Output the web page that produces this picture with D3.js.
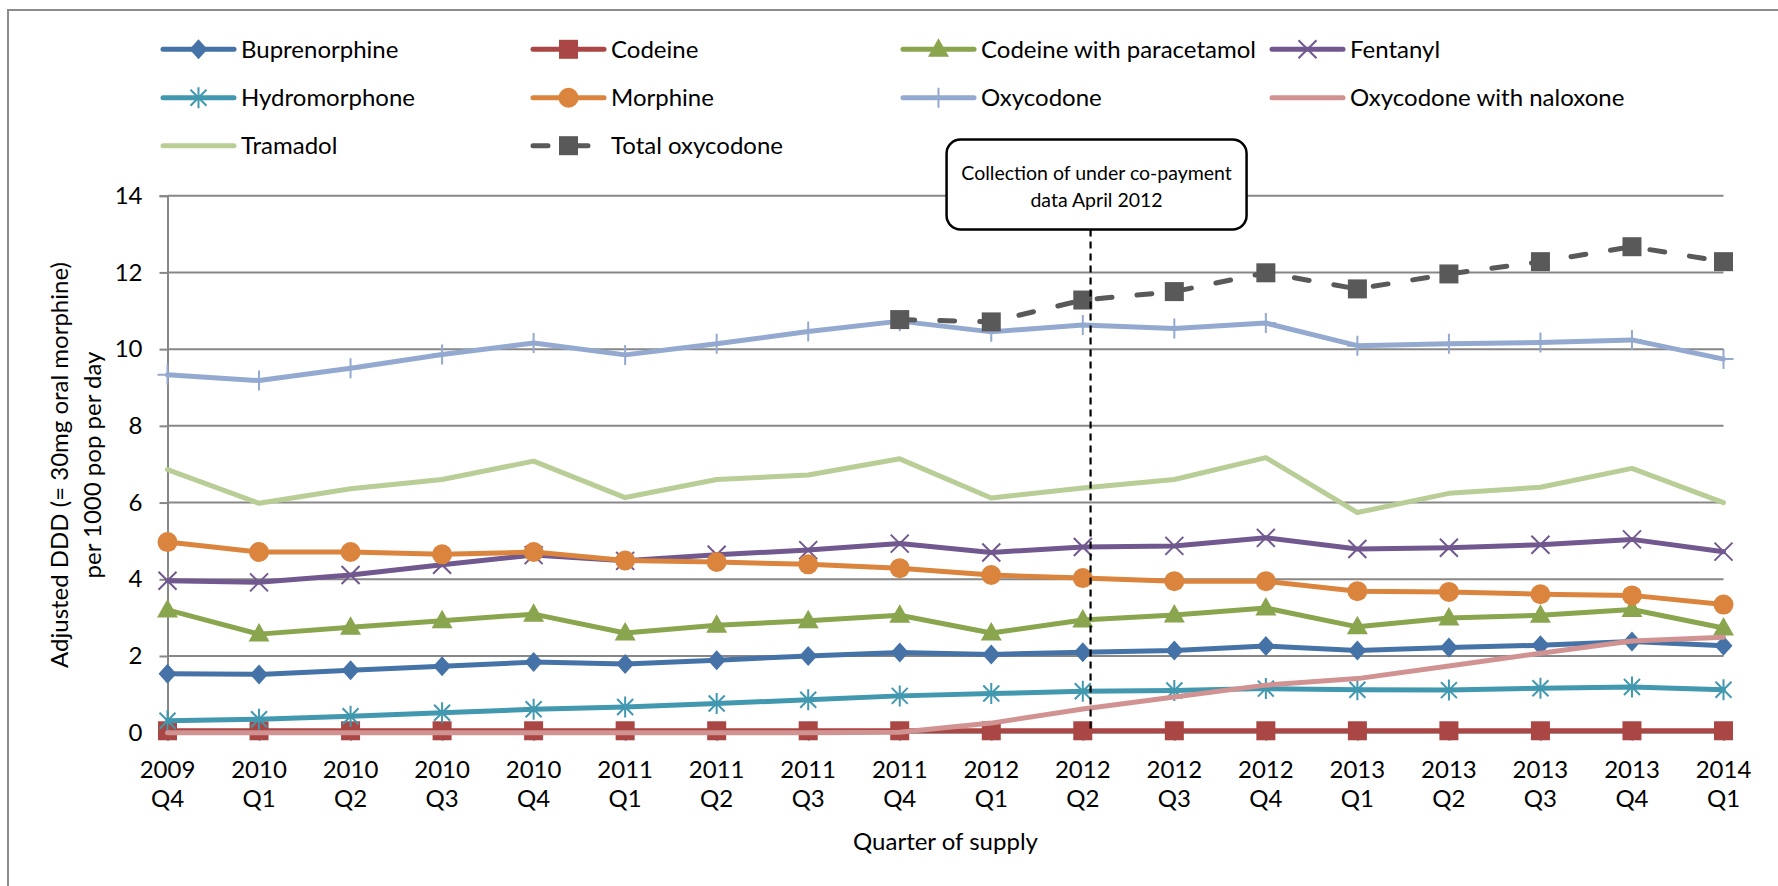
<!DOCTYPE html>
<html>
<head>
<meta charset="utf-8">
<script src="https://cdn.jsdelivr.net/npm/d3@7"></script>
<style>
  html, body { margin: 0; padding: 0; background: #ffffff; }
  svg { display: block; font-family: Lato, "Liberation Sans", sans-serif; }
</style>
</head>
<body>
<svg id="chart" width="1778" height="886"></svg>
<script>
// Quarter of supply (two-line category labels)
const years    = ["2009","2010","2010","2010","2010","2011","2011","2011","2011","2012","2012","2012","2012","2013","2013","2013","2013","2014"];
const quarters = ["Q4","Q1","Q2","Q3","Q4","Q1","Q2","Q3","Q4","Q1","Q2","Q3","Q4","Q1","Q2","Q3","Q4","Q1"];

// Adjusted DDD per 1000 population per day
const buprenorphine       = [1.54, 1.52, 1.63, 1.73, 1.84, 1.79, 1.89, 2.00, 2.09, 2.04, 2.10, 2.14, 2.26, 2.14, 2.22, 2.28, 2.38, 2.27];
const codeine             = [0.05, 0.05, 0.05, 0.05, 0.05, 0.05, 0.05, 0.05, 0.05, 0.05, 0.05, 0.05, 0.05, 0.05, 0.05, 0.05, 0.05, 0.05];
const codeineParacetamol  = [3.20, 2.57, 2.75, 2.92, 3.09, 2.60, 2.80, 2.92, 3.06, 2.60, 2.94, 3.07, 3.25, 2.76, 2.99, 3.06, 3.21, 2.73];
const fentanyl            = [3.96, 3.92, 4.11, 4.38, 4.63, 4.48, 4.64, 4.76, 4.93, 4.70, 4.84, 4.87, 5.08, 4.79, 4.82, 4.90, 5.04, 4.72];
const hydromorphone       = [0.31, 0.35, 0.43, 0.52, 0.61, 0.67, 0.76, 0.86, 0.96, 1.02, 1.08, 1.10, 1.15, 1.12, 1.11, 1.16, 1.19, 1.12];
const morphine            = [4.97, 4.71, 4.71, 4.65, 4.71, 4.49, 4.45, 4.39, 4.29, 4.11, 4.03, 3.95, 3.95, 3.69, 3.67, 3.61, 3.58, 3.34];
const oxycodone           = [9.33, 9.18, 9.50, 9.86, 10.16, 9.85, 10.14, 10.46, 10.73, 10.45, 10.63, 10.54, 10.68, 10.09, 10.14, 10.17, 10.24, 9.74];
const oxycodoneNaloxone   = [0, 0, 0, 0, 0, 0, 0, 0, 0.01, 0.25, 0.62, 0.93, 1.24, 1.41, 1.74, 2.07, 2.39, 2.49];
const tramadol            = [6.86, 5.98, 6.36, 6.60, 7.08, 6.13, 6.60, 6.72, 7.14, 6.12, 6.38, 6.60, 7.17, 5.74, 6.24, 6.40, 6.89, 6.00];
const totalOxycodone      = [null, null, null, null, null, null, null, null, 10.77, 10.71, 11.28, 11.50, 11.99, 11.57, 11.96, 12.28, 12.67, 12.28];

const yTicks = [0, 2, 4, 6, 8, 10, 12, 14];

const seriesNames = ["Buprenorphine", "Codeine", "Codeine with paracetamol", "Fentanyl",
                     "Hydromorphone", "Morphine", "Oxycodone", "Oxycodone with naloxone",
                     "Tramadol", "Total oxycodone"];
const seriesValues = [buprenorphine, codeine, codeineParacetamol, fentanyl,
                      hydromorphone, morphine, oxycodone, oxycodoneNaloxone,
                      tramadol, totalOxycodone];
const seriesColors = ["#4572A7", "#AA4643", "#89A54E", "#71588F",
                      "#4198AF", "#DB843D", "#93A9CF", "#D19392",
                      "#B9CD96", "#595959"];
const seriesMarkers = ["diamond", "square", "triangle", "cross",
                       "asterisk", "circle", "plus", "none",
                       "none", "square"];

// Policy annotation sits just after the 2012 Q2 point
const noteLines = ["Collection of under co-payment", "data April 2012"];
const notePosition = 10.085;

const svg = d3.select("#chart");
const W = 1778, H = 886;
const plot = { left: 167.5, right: 1723.5, top: 195.7, bottom: 732.7 };
const FONT = 24;

// chart area frame
svg.append("rect").attr("x", 0).attr("y", 0).attr("width", W).attr("height", H).attr("fill", "#fff");
svg.append("rect").attr("x", 8).attr("y", 10).attr("width", W + 20).attr("height", H + 20)
  .attr("fill", "none").attr("stroke", "#8c8c8c").attr("stroke-width", 2);

const x = d3.scaleLinear().domain([0, years.length - 1]).range([plot.left, plot.right]);
const y = d3.scaleLinear().domain([0, 14]).range([plot.bottom, plot.top]);

// horizontal gridlines
svg.append("g").selectAll("line").data(yTicks.filter(t => t > 0)).join("line")
  .attr("x1", plot.left).attr("x2", plot.right)
  .attr("y1", d => y(d)).attr("y2", d => y(d))
  .attr("stroke", "#878787").attr("stroke-width", 2);

// y axis
const yAxis = d3.axisLeft(y).tickValues(yTicks).tickSize(8).tickPadding(17).tickFormat(d3.format("d"));
const gy = svg.append("g").attr("transform", `translate(${plot.left},0)`).call(yAxis);
gy.select(".domain").attr("stroke", "#878787").attr("stroke-width", 2);
gy.selectAll(".tick line").attr("stroke", "#878787").attr("stroke-width", 2);
gy.selectAll(".tick text").attr("font-size", FONT).attr("font-family", "Lato, 'Liberation Sans', sans-serif")
  .attr("fill", "#000");

// x axis (categories on tick marks)
const xAxis = d3.axisBottom(x).tickValues(d3.range(years.length)).tickSize(8).tickFormat("");
const gx = svg.append("g").attr("transform", `translate(0,${plot.bottom})`).call(xAxis);
gx.select(".domain").attr("stroke", "#878787").attr("stroke-width", 2).attr("d", `M${plot.left},0H${plot.right}`);
gx.selectAll(".tick line").attr("stroke", "#878787").attr("stroke-width", 2);
const xl = svg.append("g").attr("font-size", FONT).attr("text-anchor", "middle").attr("fill", "#000");
xl.selectAll("text.yr").data(years).join("text").attr("class", "yr")
  .attr("x", (d, i) => x(i)).attr("y", 778).text(d => d);
xl.selectAll("text.qt").data(quarters).join("text").attr("class", "qt")
  .attr("x", (d, i) => x(i)).attr("y", 807).text(d => d);

// axis titles
svg.append("text").attr("x", (plot.left + plot.right) / 2).attr("y", 850)
  .attr("text-anchor", "middle").attr("font-size", FONT).text("Quarter of supply");
const yt = svg.append("g").attr("font-size", FONT).attr("text-anchor", "middle");
yt.append("text").attr("transform", "translate(68,465) rotate(-90)").text("Adjusted DDD (= 30mg oral morphine)");
yt.append("text").attr("transform", "translate(101,465) rotate(-90)").text("per 1000 pop per day");

// marker shapes
function drawMarker(g, type, color) {
  if (type === "diamond") {
    g.append("path").attr("d", "M0,-10L9,0L0,10L-9,0Z").attr("fill", color);
  } else if (type === "square") {
    g.append("rect").attr("x", -9.5).attr("y", -9.5).attr("width", 19).attr("height", 19).attr("fill", color);
  } else if (type === "triangle") {
    g.append("path").attr("d", "M0,-11L10.5,7.5L-10.5,7.5Z").attr("fill", color);
  } else if (type === "circle") {
    g.append("circle").attr("r", 10).attr("fill", color);
  } else if (type === "cross") {
    g.append("path").attr("d", "M-9,-9L9,9M-9,9L9,-9").attr("stroke", color).attr("stroke-width", 2).attr("fill", "none");
  } else if (type === "asterisk") {
    g.append("path").attr("d", "M-8,-8L8,8M-8,8L8,-8M0,-10.5V10.5").attr("stroke", color).attr("stroke-width", 2).attr("fill", "none");
  } else if (type === "plus") {
    g.append("path").attr("d", "M0,-10V10M-10,0H10").attr("stroke", color).attr("stroke-width", 2).attr("fill", "none");
  }
}

// series
const line = d3.line().defined(d => d.v != null).x(d => x(d.i)).y(d => y(d.v));
seriesNames.forEach((name, s) => {
  const pts = seriesValues[s].map((v, i) => ({ i, v }));
  const g = svg.append("g");
  const p = g.append("path").attr("d", line(pts)).attr("fill", "none")
    .attr("stroke", seriesColors[s]).attr("stroke-width", 5)
    .attr("stroke-linejoin", "round").attr("stroke-linecap", "round");
  if (name === "Total oxycodone") p.attr("stroke-dasharray", "15 25");
  if (seriesMarkers[s] !== "none") {
    pts.filter(d => d.v != null).forEach(d => {
      drawMarker(g.append("g").attr("transform", `translate(${x(d.i)},${y(d.v)})`), seriesMarkers[s], seriesColors[s]);
    });
  }
});

// annotation: dashed marker line and callout box
const nx = x(notePosition);
const box = { w: 300, h: 90, top: 139.5 };
svg.append("line").attr("x1", nx).attr("x2", nx).attr("y1", box.top + box.h).attr("y2", plot.bottom)
  .attr("stroke", "#000").attr("stroke-width", 2.2).attr("stroke-dasharray", "7 5");
svg.append("rect").attr("x", nx - box.w / 2 + 6).attr("y", box.top).attr("width", box.w).attr("height", box.h)
  .attr("rx", 14).attr("fill", "#fff").attr("stroke", "#000").attr("stroke-width", 2.5);
svg.append("g").attr("font-size", 19.5).attr("text-anchor", "middle")
  .selectAll("text").data(noteLines).join("text")
  .attr("x", nx + 6).attr("y", (d, i) => 180 + i * 27).text(d => d);

// legend
const legCols = [163, 533, 903, 1272];
const legRows = [49.3, 97.7, 145.7];
const leg = svg.append("g");
seriesNames.forEach((name, s) => {
  const cx = legCols[s % 4], cy = legRows[Math.floor(s / 4)];
  const g = leg.append("g").attr("transform", `translate(${cx},${cy})`);
  const l = g.append("line").attr("x1", 0).attr("x2", 71).attr("y1", 0).attr("y2", 0)
    .attr("stroke", seriesColors[s]).attr("stroke-width", 5).attr("stroke-linecap", "round");
  if (name === "Total oxycodone") l.attr("stroke-dasharray", "15 25").attr("x2", 66);
  if (seriesMarkers[s] !== "none") drawMarker(g.append("g").attr("transform", "translate(35.5,0)"), seriesMarkers[s], seriesColors[s]);
  g.append("text").attr("x", 78).attr("y", 0).attr("dy", "0.35em").attr("font-size", FONT).text(name);
});
</script>
</body>
</html>
